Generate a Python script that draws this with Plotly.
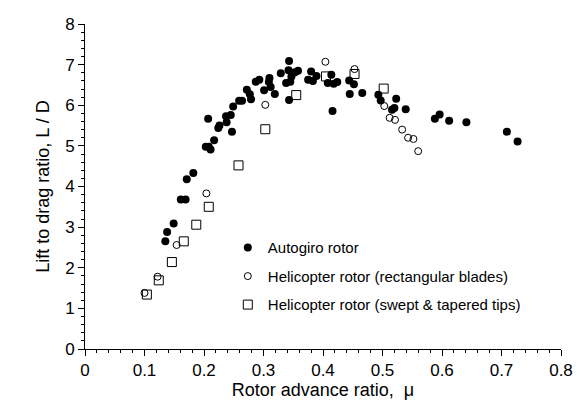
import plotly.graph_objects as go

# Autogiro rotor (filled circles)
auto_x = [0.135, 0.138, 0.149, 0.161, 0.169, 0.171, 0.182, 0.203, 0.208, 0.211,
          0.217, 0.247, 0.224, 0.226, 0.238, 0.207, 0.237, 0.245, 0.249, 0.259,
          0.264, 0.279, 0.277, 0.272, 0.301, 0.319, 0.343, 0.287, 0.293, 0.309,
          0.310, 0.312, 0.329, 0.338, 0.345, 0.343, 0.342, 0.347, 0.353, 0.358,
          0.375, 0.380, 0.383, 0.389, 0.414, 0.408, 0.418, 0.424, 0.416, 0.444,
          0.452, 0.445, 0.466, 0.493, 0.497, 0.523, 0.516, 0.520, 0.539, 0.588,
          0.596, 0.612, 0.641, 0.709, 0.727]
auto_y = [2.65, 2.88, 3.09, 3.68, 3.68, 4.18, 4.33, 4.98, 4.98, 4.91,
          5.14, 5.35, 5.44, 5.50, 5.58, 5.67, 5.73, 5.76, 5.97, 6.11,
          6.11, 6.15, 6.27, 6.38, 6.37, 6.28, 6.13, 6.58, 6.63, 6.57,
          6.67, 6.45, 6.79, 6.55, 6.58, 7.09, 6.86, 6.71, 6.81, 6.85,
          6.63, 6.83, 6.60, 6.72, 6.75, 6.55, 6.53, 6.57, 5.86, 6.61,
          6.52, 6.28, 6.30, 6.26, 6.12, 6.16, 5.89, 5.93, 5.90, 5.67,
          5.77, 5.62, 5.58, 5.35, 5.11]

# Helicopter rotor (rectangular blades) (open circles)
rect_x = [0.100, 0.122, 0.154, 0.204, 0.303, 0.404, 0.453, 0.503, 0.512, 0.521,
          0.533, 0.543, 0.552, 0.560]
rect_y = [1.38, 1.78, 2.56, 3.83, 6.01, 7.07, 6.89, 5.98, 5.69, 5.64,
          5.40, 5.20, 5.17, 4.87]

# Helicopter rotor (swept & tapered tips) (open squares)
swept_x = [0.104, 0.124, 0.146, 0.166, 0.187, 0.208, 0.258, 0.303, 0.355, 0.405,
           0.453, 0.502]
swept_y = [1.34, 1.69, 2.14, 2.65, 3.06, 3.50, 4.52, 5.41, 6.25, 6.71,
           6.77, 6.41]

names = ["Autogiro rotor",
         "Helicopter rotor (rectangular blades)",
         "Helicopter rotor (swept & tapered tips)"]

FONT = "Arial, Liberation Sans, sans-serif"

fig = go.Figure()
fig.add_trace(go.Scatter(x=auto_x, y=auto_y, mode="markers", name=names[0],
                         legendgroup="a",
                         marker=dict(symbol="circle", size=8, color="black",
                                     line=dict(width=0))))
fig.add_trace(go.Scatter(x=rect_x, y=rect_y, mode="markers", name=names[1],
                         legendgroup="b",
                         marker=dict(symbol="circle-open", size=7, color="black",
                                     line=dict(width=1))))
fig.add_trace(go.Scatter(x=swept_x, y=swept_y, mode="markers", name=names[2],
                         legendgroup="c",
                         marker=dict(symbol="square-open", size=9, color="black",
                                     line=dict(width=1))))

axis_common = dict(showline=True, linecolor="black", linewidth=1,
                   ticks="outside", ticklen=6, tickwidth=1, tickcolor="black",
                   showgrid=False, zeroline=False, mirror=False,
                   tickfont=dict(family=FONT, size=17, color="black"))

fig.update_layout(
    width=585, height=407,
    margin=dict(l=85, r=13, t=24, b=56),
    paper_bgcolor="white", plot_bgcolor="white",
    font=dict(family=FONT, size=17, color="black"),
    xaxis=dict(range=[0, 0.8], dtick=0.1, tick0=0,
               title=dict(text="Rotor advance ratio,  \u03bc", standoff=2,
                          font=dict(family=FONT, size=18)),
               minor=dict(dtick=0.02, ticks="outside", ticklen=3,
                          tickcolor="black", showgrid=False),
               **axis_common),
    yaxis=dict(range=[0, 8], dtick=1, tick0=0,
               title=dict(text="Lift to drag ratio, L / D", standoff=10,
                          font=dict(family=FONT, size=18)),
               minor=dict(dtick=0.2, ticks="outside", ticklen=3,
                          tickcolor="black", showgrid=False),
               **axis_common),
    legend=dict(x=0.30, y=0.362, xanchor="left", yanchor="top",
                bgcolor="rgba(0,0,0,0)", borderwidth=0,
                font=dict(family=FONT, size=15, color="black"),
                traceorder="grouped", tracegroupgap=6),
    showlegend=True,
)

fig.write_html("out.html")
